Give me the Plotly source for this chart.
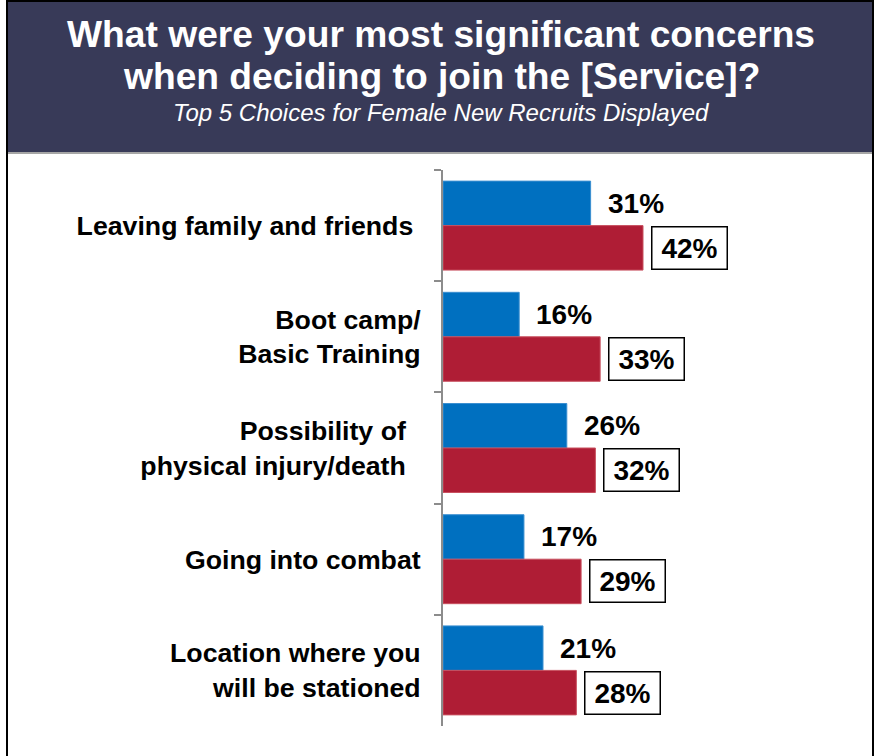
import plotly.graph_objects as go

# Survey categories (top-to-bottom) and their on-axis labels
categories = [
    "Leaving family and friends\u00a0",
    "Boot camp/<br>Basic Training",
    "Possibility of\u00a0\u00a0<br>physical injury/death\u00a0\u00a0",
    "Going into combat",
    "Location where you<br>will be stationed",
]
# Percentages per group
group_a_pct = [31, 16, 26, 17, 21]
group_b_pct = [42, 33, 32, 29, 28]

title_line1 = "What were your most significant concerns"
title_line2 = "when deciding to join the [Service]?"
subtitle = "Top 5 Choices for Female New Recruits Displayed"

BLUE = "#0070C0"
RED = "#AF1D35"
HEADER = "#383A58"
FONT = "Liberation Sans, Arial, sans-serif"

W_PX, H_PX = 876, 756
L, R, T, B = 443, 5, 170, 30
PW = W_PX - L - R
PH = H_PX - T - B


def px_x(px):
    return (px - L) / PW


def px_y(py):
    return (T + PH - py) / PH


fig = go.Figure()
fig.add_trace(go.Bar(
    x=group_a_pct, y=categories, orientation="h", name="Group A",
    marker=dict(color=BLUE, line=dict(color="#3A8FD0", width=1)),
    hoverinfo="x+y",
))
fig.add_trace(go.Bar(
    x=group_b_pct, y=categories, orientation="h", name="Group B",
    marker=dict(color=RED, line=dict(color="#C8505F", width=1)),
    hoverinfo="x+y",
))

annotations = []
for i, v in enumerate(group_a_pct):
    annotations.append(dict(
        x=v, y=i - 0.2, xref="x", yref="y", text=f"<b>{v}%</b>",
        xanchor="left", yanchor="middle", xshift=15, showarrow=False,
        font=dict(family=FONT, size=28, color="black"),
    ))
for i, v in enumerate(group_b_pct):
    annotations.append(dict(
        x=v, y=i + 0.2, xref="x", yref="y", text=f"<b>{v}%</b>",
        xanchor="left", yanchor="middle", xshift=8, showarrow=False,
        font=dict(family=FONT, size=28, color="black"),
        bordercolor="black", borderwidth=1.5, borderpad=4,
        bgcolor="white", width=66, height=33, align="center",
    ))

# Header text
cx = px_x(441)
annotations += [
    dict(x=cx, y=px_y(34), xref="paper", yref="paper", text=f"<b>{title_line1}</b>",
         xanchor="center", yanchor="middle", showarrow=False,
         font=dict(family=FONT, size=37.2, color="white")),
    dict(x=cx, y=px_y(76), xref="paper", yref="paper", text=f"<b>{title_line2}</b>",
         xanchor="center", yanchor="middle", showarrow=False,
         font=dict(family=FONT, size=37.2, color="white")),
    dict(x=cx, y=px_y(113), xref="paper", yref="paper", text=f"<i>{subtitle}</i>",
         xanchor="center", yanchor="middle", showarrow=False,
         font=dict(family=FONT, size=24, color="white")),
]

shapes = [
    # header band
    dict(type="rect", xref="paper", yref="paper", layer="below",
         x0=px_x(7), x1=px_x(873), y0=px_y(0), y1=px_y(152),
         fillcolor=HEADER, line=dict(width=0)),
    # separator under header
    dict(type="line", xref="paper", yref="paper",
         x0=px_x(8), x1=px_x(873), y0=px_y(153), y1=px_y(153),
         line=dict(color="#A6A6A6", width=2)),
    # outer frame
    dict(type="line", xref="paper", yref="paper",
         x0=px_x(7), x1=px_x(7), y0=px_y(0), y1=px_y(756),
         line=dict(color="black", width=2)),
    dict(type="line", xref="paper", yref="paper",
         x0=px_x(873), x1=px_x(873), y0=px_y(0), y1=px_y(756),
         line=dict(color="black", width=2)),
    dict(type="line", xref="paper", yref="paper",
         x0=px_x(6), x1=px_x(874), y0=px_y(1), y1=px_y(1),
         line=dict(color="black", width=2)),
]

fig.update_layout(
    width=W_PX, height=H_PX,
    margin=dict(l=L, r=R, t=T, b=B),
    paper_bgcolor="white", plot_bgcolor="white",
    barmode="group", bargap=0.2, bargroupgap=0,
    showlegend=False,
    annotations=annotations, shapes=shapes,
    font=dict(family=FONT),
)
fig.update_xaxes(range=[0, PW / 4.762], visible=False, showgrid=False, zeroline=False)
fig.update_yaxes(
    type="category", categoryorder="array", categoryarray=categories,
    range=[4.5, -0.5], tickson="boundaries", ticks="outside", ticklen=7,
    tickwidth=2, tickcolor="#8C8C8C", showline=True, linecolor="#8C8C8C",
    linewidth=2, showgrid=False, zeroline=False,
    tickfont=dict(family=FONT, size=26.7, color="black", weight="bold"),
    ticklabelstandoff=15,
)

fig.write_html("out.html")
